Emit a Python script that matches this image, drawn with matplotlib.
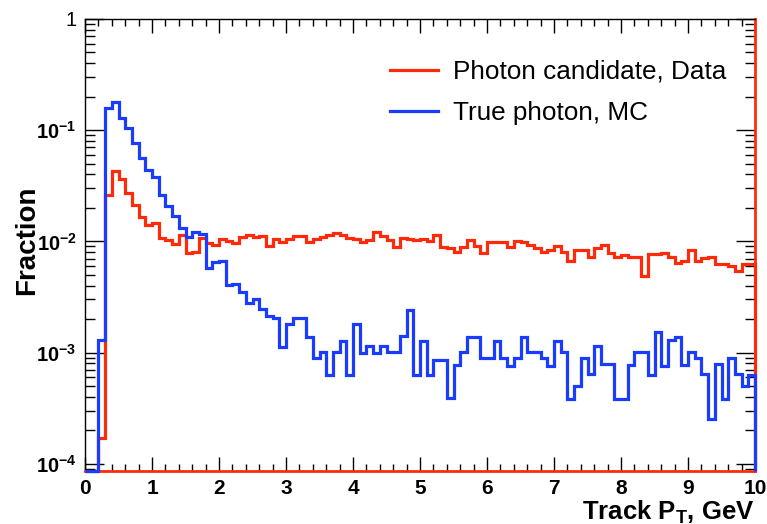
import numpy as np
import matplotlib
matplotlib.use("Agg")
import matplotlib.pyplot as plt
from matplotlib.lines import Line2D
from matplotlib.ticker import FixedLocator, LogLocator, NullFormatter, MultipleLocator

plt.rcParams['font.family'] = ['Liberation Sans', 'DejaVu Sans']
plt.rcParams['mathtext.fontset'] = 'custom'
plt.rcParams['mathtext.rm'] = 'Liberation Sans:bold'
plt.rcParams['mathtext.it'] = 'Liberation Sans:bold'
plt.rcParams['mathtext.bf'] = 'Liberation Sans:bold'
plt.rcParams['mathtext.default'] = 'rm'

# histogram range: 100 bins from 0 to 10 GeV
pt_min, pt_max, n_bins = 0.0, 10.0, 100

# photon candidates (data), fraction per bin
data_frac = [
    0, 0, 1.7e-4, 0.026, 0.0432, 0.0362, 0.027, 0.0212, 0.0167, 0.0139,
    0.0147, 0.0107, 0.0102, 0.0095, 0.0113, 0.0079, 0.0081, 0.0107, 0.0096, 0.0093,
    0.0105, 0.0101, 0.0096, 0.0109, 0.0113, 0.0110, 0.0112, 0.0091, 0.0105, 0.0098,
    0.0105, 0.0112, 0.0112, 0.0098, 0.0105, 0.0110, 0.0115, 0.0118, 0.0115, 0.0108,
    0.0105, 0.0098, 0.0102, 0.0122, 0.0112, 0.0103, 0.0089, 0.0108, 0.0105, 0.0103,
    0.0105, 0.0100, 0.0115, 0.0089, 0.0087, 0.0081, 0.0089, 0.0103, 0.0091, 0.0078,
    0.0098, 0.0098, 0.0098, 0.0089, 0.0100, 0.0098, 0.0093, 0.0087, 0.0081, 0.0084,
    0.0091, 0.0081, 0.0067, 0.0083, 0.0083, 0.0072, 0.0087, 0.0093, 0.0078, 0.0073,
    0.0076, 0.0073, 0.0073, 0.0049, 0.0077, 0.0077, 0.0078, 0.0073, 0.0064, 0.0066,
    0.0084, 0.0067, 0.0071, 0.0073, 0.0062, 0.0062, 0.0060, 0.0054, 0.0062, 0.0062,
]

# true photons (MC), fraction per bin
mc_frac = [
    0, 0, 0.0013, 0.157, 0.18, 0.13, 0.104, 0.077, 0.056, 0.044,
    0.0377, 0.026, 0.0209, 0.0169, 0.0131, 0.011, 0.0122, 0.0116, 0.00573, 0.0065,
    0.0067, 0.00406, 0.0041, 0.00353, 0.00281, 0.0030, 0.00245, 0.00213, 0.00203, 0.00113,
    0.0018, 0.00203, 0.00203, 0.00139, 0.00089, 0.00102, 0.00063, 0.00102, 0.00128, 0.00063,
    0.0018, 0.0010, 0.00115, 0.0010, 0.00115, 0.00102, 0.00102, 0.00141, 0.00242, 0.00063,
    0.00128, 0.00063, 0.00086, 0.00086, 0.00039, 0.00078, 0.00102, 0.00139, 0.00139, 0.00089,
    0.00089, 0.00127, 0.00089, 0.00076, 0.00089, 0.00139, 0.00102, 0.00102, 0.00089, 0.00076,
    0.00126, 0.00102, 0.00038, 0.0005, 0.00089, 0.00064, 0.00114, 0.00079, 0.00079, 0.00038,
    0.00038, 0.00078, 0.00102, 0.00102, 0.00063, 0.00152, 0.00076, 0.0013, 0.00139, 0.00078,
    0.00102, 0.00089, 0.00064, 0.00025, 0.00079, 0.00038, 0.00089, 0.00064, 0.0005, 0.00063,
]

labels = ['Photon candidate, Data', 'True photon, MC']
y_ticks = [1e-4, 1e-3, 1e-2, 1e-1, 1]
y_tick_labels = [r'$10^{-4}$', r'$10^{-3}$', r'$10^{-2}$', r'$10^{-1}$', '1']

red = '#ff2a0a'
blue = '#1a3cff'
y_lo, y_hi = 8.6e-5, 1.0

edges = np.linspace(pt_min, pt_max, n_bins + 1)
# empty bins are drawn on the bottom edge, like ROOT does on a log axis
data_plot = np.where(np.array(data_frac) > 0, data_frac, y_lo)
mc_plot = np.where(np.array(mc_frac) > 0, mc_frac, y_lo)

fig = plt.figure(figsize=(7.67, 5.24), dpi=100)
ax = fig.add_axes([85 / 767, 53 / 524, 670 / 767, 452 / 524])

ax.stairs(data_plot, edges, baseline=y_lo, color=red, lw=2.3, zorder=3, clip_on=False)
ax.stairs(mc_plot, edges, baseline=y_lo, color=blue, lw=2.3, zorder=4, clip_on=False)

ax.set_yscale('log')
ax.set_xlim(pt_min, pt_max)
ax.set_ylim(y_lo, y_hi)

ax.yaxis.set_major_locator(FixedLocator(y_ticks))
ax.set_yticklabels(y_tick_labels)
ax.yaxis.set_minor_locator(LogLocator(base=10, subs=np.arange(2, 10)))
ax.yaxis.set_minor_formatter(NullFormatter())
ax.xaxis.set_major_locator(MultipleLocator(1))
ax.xaxis.set_minor_locator(MultipleLocator(0.2))

ax.tick_params(axis='both', which='both', direction='in', top=True, right=True, width=1)
ax.tick_params(axis='y', which='major', length=14, pad=6, labelsize=14.5)
ax.tick_params(axis='y', which='minor', length=7)
ax.tick_params(axis='x', which='major', length=10, pad=6, labelsize=15)
ax.tick_params(axis='x', which='minor', length=5)
for lab in ax.get_xticklabels():
    lab.set_fontweight('bold')

for sp in ax.spines.values():
    sp.set_linewidth(1)
ax.spines['right'].set_color(red)
ax.spines['right'].set_linewidth(2)
ax.spines['bottom'].set_color(red)
ax.spines['bottom'].set_linewidth(2)

ax.set_xlabel(r'Track P$_\mathrm{T}$, GeV', fontsize=18.5, fontweight='bold', loc='right', labelpad=0)
ax.set_ylabel('Fraction', fontsize=20, fontweight='bold')
ax.yaxis.set_label_coords(-0.067, 0.51)

handles = [Line2D([], [], color=red, lw=2.3), Line2D([], [], color=blue, lw=2.3)]
ax.legend(handles, labels, loc='upper left', bbox_to_anchor=(0.455, 0.91),
          frameon=False, fontsize=18.8, handlelength=1.85, handletextpad=0.55,
          labelspacing=0.68, borderpad=0, borderaxespad=0)

fig.savefig('out.png', dpi=100)
